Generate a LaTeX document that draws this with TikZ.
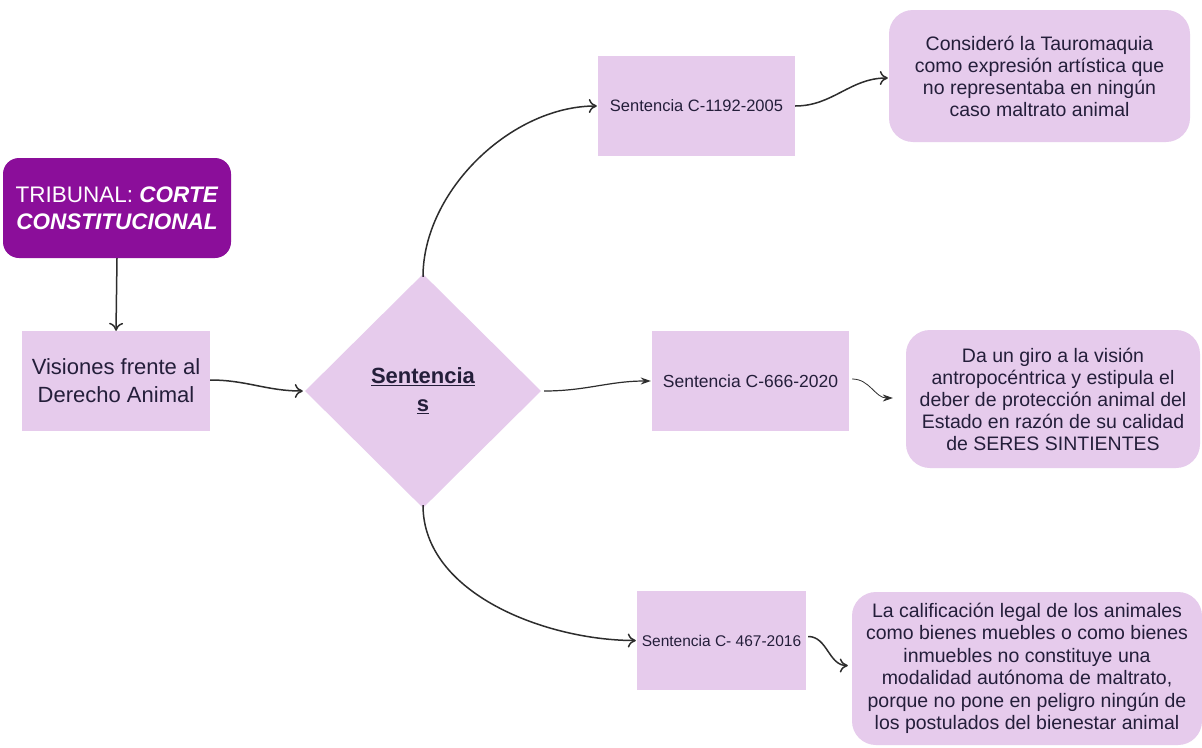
\documentclass[tikz,border=0pt]{standalone}
\usepackage{fontspec}
\setmainfont{Liberation Sans}
\usetikzlibrary{shapes.geometric,arrows.meta}
\definecolor{lightv}{RGB}{230,203,236}
\definecolor{darkv}{RGB}{139,14,154}
\definecolor{txt}{RGB}{36,30,58}
\definecolor{line}{RGB}{45,45,45}
\tikzset{
  box/.style={draw=none,fill=lightv,inner sep=2pt,align=center,text=txt},
  rbox/.style={box,rounded corners=24pt},
  conn/.style={draw=line,line width=1.5pt,-{To[length=8pt,width=14pt]}},
  sconn/.style={draw=line,line width=1.2pt,-{Stealth[length=10pt,width=7pt]}},
}
\begin{document}
\begin{tikzpicture}[x=1pt,y=-1pt]
\useasboundingbox (0,0) rectangle (1202,747);
\fill[white] (0,0) rectangle (1202,747);

\node[box,fill=darkv,text=white,rounded corners=16pt,minimum width=228pt,minimum height=100pt,font=\fontsize{22.5}{27}\selectfont]
  (trib) at (117,208) {TRIBUNAL: \textbf{\textit{CORTE}}\\\textbf{\textit{CONSTITUCIONAL}}};
\node[box,minimum width=188pt,minimum height=100pt,font=\fontsize{22}{28}\selectfont]
  (vis) at (116,381) {Visiones frente al\\Derecho Animal};
\node[box,diamond,inner sep=0pt,minimum width=236pt,minimum height=234pt,font=\fontsize{22}{28}\selectfont\bfseries]
  (dia) at (423,391) {\underline{Sentencia}\\\underline{s}};

\node[box,minimum width=197pt,minimum height=100pt,font=\fontsize{16.5}{19}\selectfont]
  (c1) at (696.5,106) {Sentencia C-1192-2005};
\node[box,minimum width=197pt,minimum height=100pt,font=\fontsize{17.5}{20}\selectfont]
  (c2) at (750.5,381) {Sentencia C-666-2020};
\node[box,minimum width=169pt,minimum height=99pt,font=\fontsize{15.5}{18}\selectfont]
  (c3) at (721.5,640.5) {Sentencia C- 467-2016};

\node[rbox,minimum width=301pt,minimum height=132pt,font=\fontsize{19.5}{22}\selectfont]
  (r1) at (1039.5,76) {Consideró la Tauromaquia\\como expresión artística que\\no representaba en ningún\\caso maltrato animal};
\node[rbox,minimum width=294pt,minimum height=138pt,font=\fontsize{19.5}{22}\selectfont]
  (r2) at (1053,399) {Da un giro a la visión\\antropocéntrica y estipula el\\deber de protección animal del\\Estado en razón de su calidad\\de SERES SINTIENTES};
\node[rbox,minimum width=350pt,minimum height=153pt,font=\fontsize{19.5}{22.5}\selectfont]
  (r3) at (1027,668.5) {La calificación legal de los animales\\como bienes muebles o como bienes\\inmuebles no constituye una\\modalidad autónoma de maltrato,\\porque no pone en peligro ningún de\\los postulados del bienestar animal};

\draw[conn] (trib.south) -- (vis.north);
\draw[conn] (vis.east) ++(0,-1) to[out=0,in=180] ([xshift=-2pt]dia.west);
\draw[conn] ([yshift=-3pt]dia.north) to[out=90,in=180,looseness=0.9] ([xshift=-1pt]c1.west);
\draw[sconn] ([xshift=3pt]dia.east) to[out=0,in=180] ([xshift=-1pt]c2.west);
\draw[conn] ([yshift=3pt]dia.south) to[out=-90,in=180,looseness=0.9] ([xshift=-1pt]c3.west);
\draw[conn] (c1.east) to[out=0,in=180] ([xshift=-1pt,yshift=-2pt]r1.west);
\draw[sconn,line width=0.8pt] ([xshift=3pt,yshift=2pt]c2.east) to[out=0,in=180] ([xshift=-13pt,yshift=1pt]r2.west);
\draw[conn] ([xshift=2pt,yshift=4pt]c3.east) to[out=0,in=180] ([xshift=-4pt,yshift=3pt]r3.west);
\end{tikzpicture}
\end{document}
